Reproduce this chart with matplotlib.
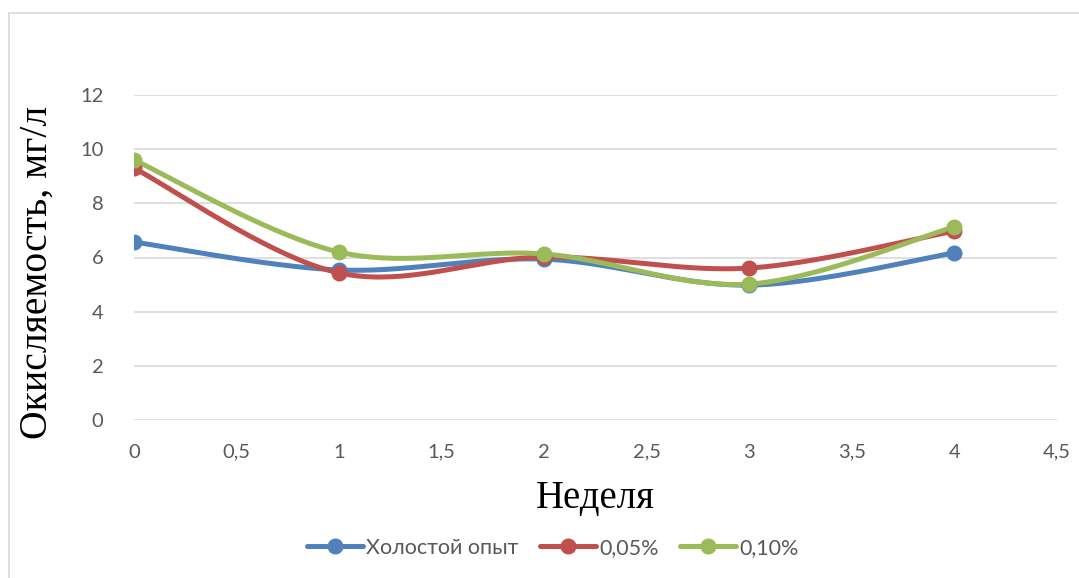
import numpy as np
import matplotlib
matplotlib.use("Agg")
import matplotlib.pyplot as plt
from matplotlib.patches import Rectangle

# Data
weeks = [0, 1, 2, 3, 4]
blank = [6.57, 5.54, 5.94, 4.98, 6.17]
conc_005 = [9.30, 5.43, 6.02, 5.61, 6.98]
conc_010 = [9.60, 6.20, 6.13, 5.02, 7.13]
series_names = ["Холостой опыт", "0,05%", "0,10%"]
colors = ["#4F81BD", "#C0504D", "#9BBB59"]
x_ticks = [0, 0.5, 1, 1.5, 2, 2.5, 3, 3.5, 4, 4.5]
y_ticks = [0, 2, 4, 6, 8, 10, 12]


def smooth(xs, ys, n=40):
    """Cubic Bezier smoothing through the points (Catmull-Rom style)."""
    p = np.column_stack([xs, ys]).astype(float)
    out = [p[0]]
    for i in range(len(p) - 1):
        p0 = p[i - 1] if i > 0 else p[i]
        p1 = p[i]
        p2 = p[i + 1]
        p3 = p[i + 2] if i + 2 < len(p) else p[i + 1]
        c1 = p1 + (p2 - p0) / 6.0
        c2 = p2 - (p3 - p1) / 6.0
        t = np.linspace(0, 1, n)[1:, None]
        seg = ((1 - t) ** 3) * p1 + 3 * ((1 - t) ** 2) * t * c1 \
            + 3 * (1 - t) * t ** 2 * c2 + t ** 3 * p2
        out.extend(seg)
    out = np.array(out)
    return out[:, 0], out[:, 1]


W, H = 1079, 578
fig = plt.figure(figsize=(W / 100, H / 100), dpi=100)
fig.patches.append(Rectangle((9 / W, -0.01), (1080 - 9) / W, 1 - 13 / H + 0.01,
                             transform=fig.transFigure, fill=False,
                             edgecolor="#D9D9D9", linewidth=1.2))

ax = fig.add_axes([134 / W, 1 - 420 / H, (1057 - 134) / W, (420 - 95) / H])
ax.set_xlim(0, 4.5)
ax.set_ylim(0, 12)

LW, MS = 3.6, 10.5
for name, vals, c in zip(series_names, [blank, conc_005, conc_010], colors):
    sx, sy = smooth(weeks, vals)
    ax.plot(sx, sy, color=c, linewidth=LW, solid_capstyle="round", zorder=3)
    ax.plot(weeks, vals, linestyle="none", marker="o", markersize=MS,
            color=c, zorder=4)

tick_font = dict(family=["Lato", "DejaVu Sans"], size=14.5, color="#595959")
ax.set_xticks(x_ticks)
ax.set_xticklabels([f"{v:g}".replace(".", ",") for v in x_ticks], **tick_font)
ax.set_yticks(y_ticks)
ax.set_yticklabels([str(v) for v in y_ticks], **tick_font)
ax.tick_params(axis="x", length=0, pad=17)
ax.tick_params(axis="y", length=0, pad=22)

ax.grid(axis="y", color="#D9D9D9", linewidth=1.2)
ax.set_axisbelow(True)
for s in ax.spines.values():
    s.set_visible(False)

serif = ["Liberation Serif", "DejaVu Serif"]
ax.set_ylabel("Окисляемость, мг/л", family=serif, size=28.5)
ax.yaxis.set_label_coords((56 - 134) / 923, (420 - 272) / 325)
ax.set_xlabel("Неделя", family=serif, size=28, labelpad=14)

handles = [plt.Line2D([], [], color=c, linewidth=LW, marker="o", markersize=MS,
                      solid_capstyle="round")
           for c in colors]
fig.legend(handles, series_names, loc="center", bbox_to_anchor=(553 / W, 1 - 548 / H),
           ncol=3, frameon=False, handlelength=2.6, handletextpad=0.15,
           columnspacing=1.0, prop=dict(family=["Lato", "DejaVu Sans"], size=15.5),
           labelcolor="#595959")

fig.savefig("out.png", dpi=100)
